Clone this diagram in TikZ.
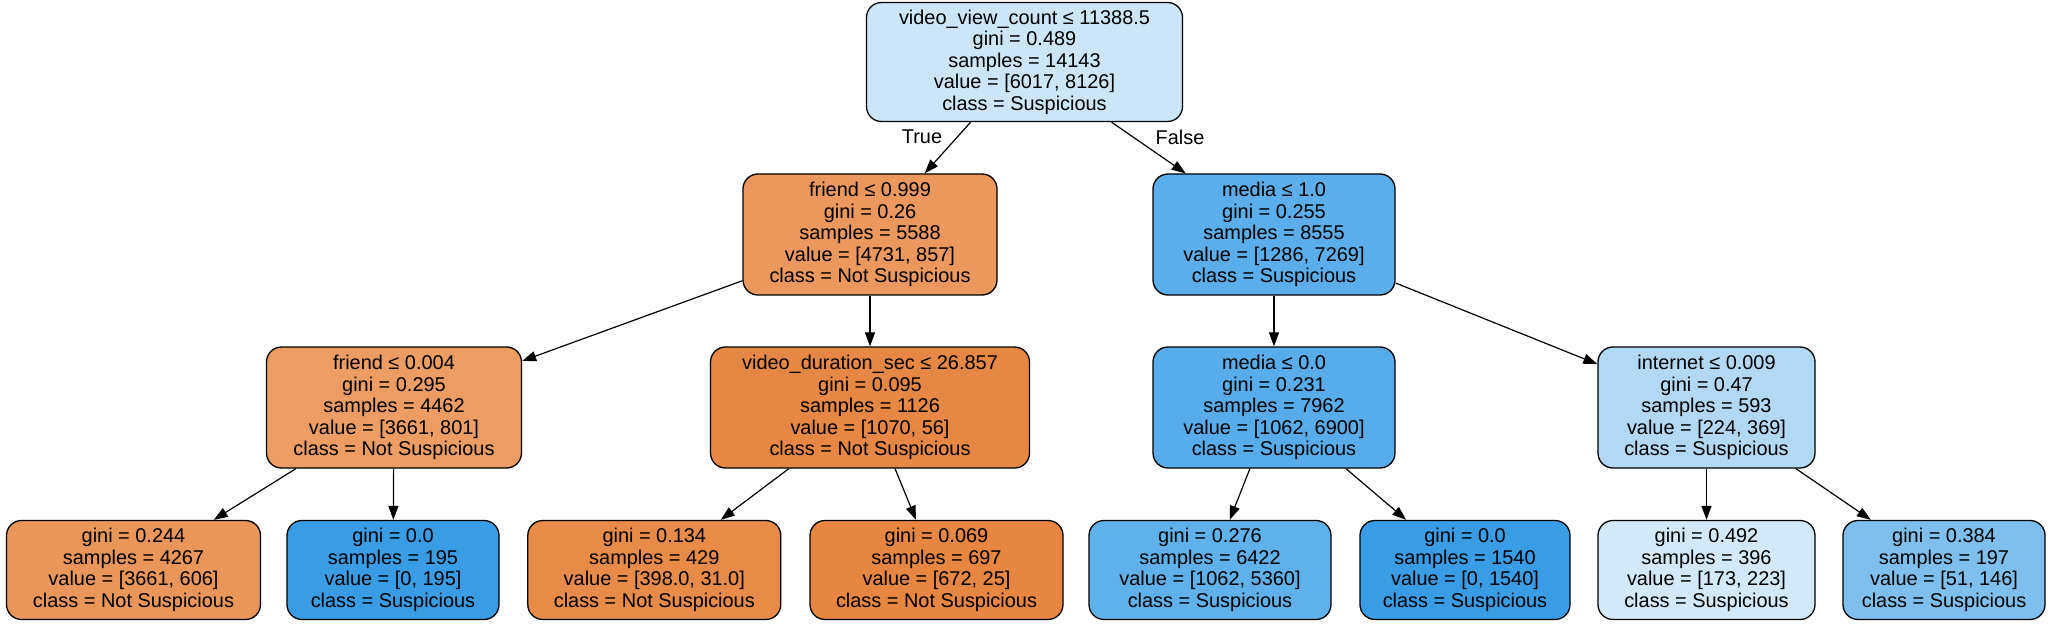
\documentclass[tikz,border=0pt]{standalone}
\usepackage{fontspec}
\setmainfont{Liberation Sans}
\usetikzlibrary{arrows.meta}
\definecolor{c0}{RGB}{204,230,248}
\definecolor{c1}{RGB}{234,152,93}
\definecolor{c2}{RGB}{92,174,234}
\definecolor{c3}{RGB}{235,157,100}
\definecolor{c4}{RGB}{230,136,67}
\definecolor{c5}{RGB}{88,172,233}
\definecolor{c6}{RGB}{177,216,245}
\definecolor{c7}{RGB}{233,150,90}
\definecolor{c8}{RGB}{57,157,229}
\definecolor{c9}{RGB}{231,139,72}
\definecolor{c10}{RGB}{230,134,64}
\definecolor{c11}{RGB}{96,176,234}
\definecolor{c12}{RGB}{57,157,229}
\definecolor{c13}{RGB}{211,233,249}
\definecolor{c14}{RGB}{126,191,238}
\tikzset{
  treenode/.style={draw=black, line width=1.3bp, rectangle, rounded corners=15bp,
    align=center, inner sep=0pt, minimum height=121bp,
    font=\fontsize{20}{21.6}\selectfont},
  leafnode/.style={treenode, minimum height=99bp},
  edge/.style={line width=1.2bp, -{Triangle[length=14bp,width=10bp]}},
  elabel/.style={font=\fontsize{20}{22}\selectfont, inner sep=0pt}
}
\begin{document}
\begin{tikzpicture}[x=1bp, y=-1bp]
\useasboundingbox (0,0) rectangle (2048,632);
% level 0
\node[treenode, fill=c0, minimum width=316bp, minimum height=119bp] (n0) at (1024.5,62)
  {video\_view\_count ≤ 11388.5\\gini = 0.489\\samples = 14143\\value = [6017, 8126]\\class = Suspicious};
% level 1
\node[treenode, fill=c1, minimum width=254bp] (n1) at (870,234.5)
  {friend ≤ 0.999\\gini = 0.26\\samples = 5588\\value = [4731, 857]\\class = Not Suspicious};
\node[treenode, fill=c2, minimum width=242bp] (n8) at (1274,234.5)
  {media ≤ 1.0\\gini = 0.255\\samples = 8555\\value = [1286, 7269]\\class = Suspicious};
% level 2
\node[treenode, fill=c3, minimum width=255bp] (n2) at (394,407.5)
  {friend ≤ 0.004\\gini = 0.295\\samples = 4462\\value = [3661, 801]\\class = Not Suspicious};
\node[treenode, fill=c4, minimum width=319bp] (n5) at (870,407.5)
  {video\_duration\_sec ≤ 26.857\\gini = 0.095\\samples = 1126\\value = [1070, 56]\\class = Not Suspicious};
\node[treenode, fill=c5, minimum width=242bp] (n9) at (1274,407.5)
  {media ≤ 0.0\\gini = 0.231\\samples = 7962\\value = [1062, 6900]\\class = Suspicious};
\node[treenode, fill=c6, minimum width=217bp] (n12) at (1706.5,407.5)
  {internet ≤ 0.009\\gini = 0.47\\samples = 593\\value = [224, 369]\\class = Suspicious};
% level 3
\node[leafnode, fill=c7, minimum width=254bp] (n3) at (133.5,570)
  {gini = 0.244\\samples = 4267\\value = [3661, 606]\\class = Not Suspicious};
\node[leafnode, fill=c8, minimum width=212bp] (n4) at (393,570)
  {gini = 0.0\\samples = 195\\value = [0, 195]\\class = Suspicious};
\node[leafnode, fill=c9, minimum width=253bp] (n6) at (654.3,570)
  {gini = 0.134\\samples = 429\\value = [398.0, 31.0]\\class = Not Suspicious};
\node[leafnode, fill=c10, minimum width=253bp] (n7) at (936.5,570)
  {gini = 0.069\\samples = 697\\value = [672, 25]\\class = Not Suspicious};
\node[leafnode, fill=c11, minimum width=242bp] (n10) at (1210,570)
  {gini = 0.276\\samples = 6422\\value = [1062, 5360]\\class = Suspicious};
\node[leafnode, fill=c12, minimum width=210bp] (n11) at (1465,570)
  {gini = 0.0\\samples = 1540\\value = [0, 1540]\\class = Suspicious};
\node[leafnode, fill=c13, minimum width=217bp] (n13) at (1706.5,570)
  {gini = 0.492\\samples = 396\\value = [173, 223]\\class = Suspicious};
\node[leafnode, fill=c14, minimum width=202bp] (n14) at (1944,570)
  {gini = 0.384\\samples = 197\\value = [51, 146]\\class = Suspicious};
% edges
\draw[edge] (n0) -- (n1);
\draw[edge] (n0) -- (n8);
\draw[edge] (n1) -- (n2);
\draw[edge] (n1) -- (n5);
\draw[edge] (n2) -- (n3);
\draw[edge] (n2) -- (n4);
\draw[edge] (n5) -- (n6);
\draw[edge] (n5) -- (n7);
\draw[edge] (n8) -- (n9);
\draw[edge] (n8) -- (n12);
\draw[edge] (n9) -- (n10);
\draw[edge] (n9) -- (n11);
\draw[edge] (n12) -- (n13);
\draw[edge] (n12) -- (n14);
% edge labels
\node[elabel] (lt) at (922,137) {True};
\node[elabel] (lf) at (1180,137) {False};
\end{tikzpicture}
\end{document}
